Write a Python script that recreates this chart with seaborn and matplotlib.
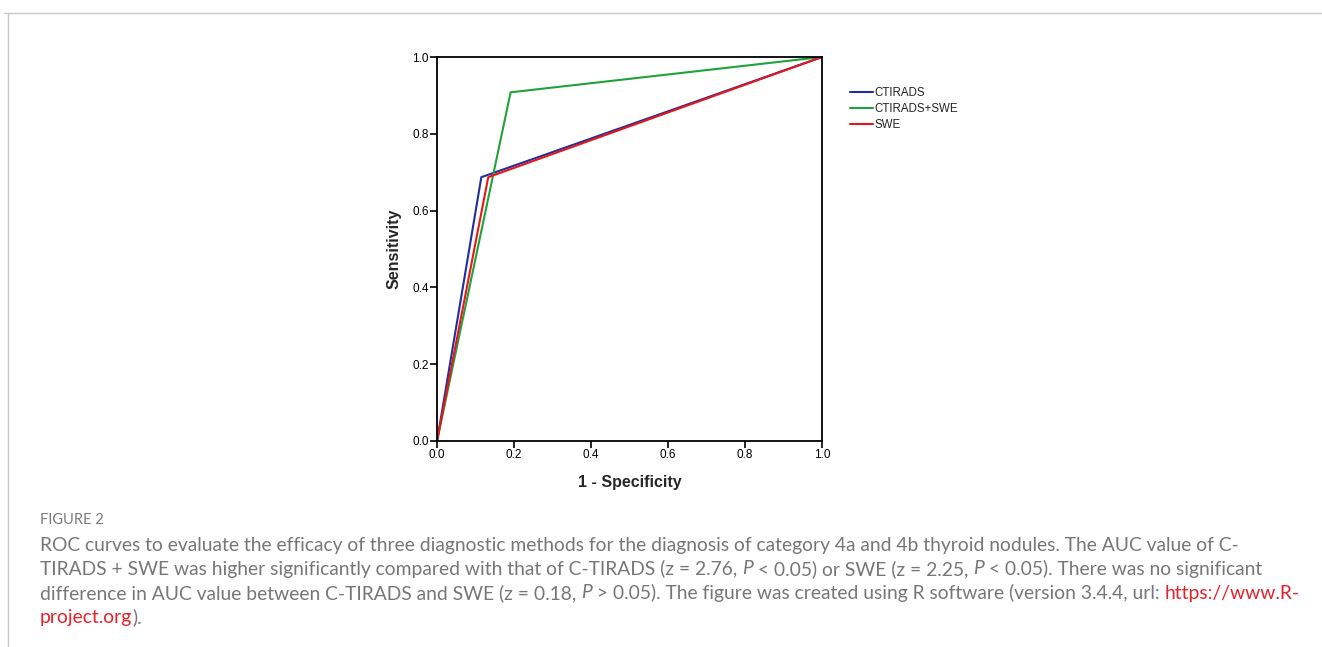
import numpy as np
import pandas as pd
import seaborn as sns
import matplotlib.pyplot as plt
from matplotlib.lines import Line2D

# ROC points
methods = ["CTIRADS", "CTIRADS+SWE", "SWE"]
fpr_ctirads = [0.0, 0.115, 1.0]
tpr_ctirads = [0.0, 0.687, 1.0]
fpr_combo = [0.0, 0.191, 1.0]
tpr_combo = [0.0, 0.908, 1.0]
fpr_swe = [0.0, 0.133, 1.0]
tpr_swe = [0.0, 0.687, 1.0]
ticks = [0.0, 0.2, 0.4, 0.6, 0.8, 1.0]
colors = {"CTIRADS": "#1f2f9a", "CTIRADS+SWE": "#1fa23a", "SWE": "#e8161b"}

caption_lines = [
    [("ROC curves to evaluate the efficacy of three diagnostic methods for the diagnosis of category 4a and 4b thyroid nodules. The AUC value of C-", "n")],
    [("TIRADS + SWE was higher significantly compared with that of C-TIRADS (z = 2.76, ", "n"), ("P", "i"),
     (" < 0.05) or SWE (z = 2.25, ", "n"), ("P", "i"), (" < 0.05). There was no significant", "n")],
    [("difference in AUC value between C-TIRADS and SWE (z = 0.18, ", "n"), ("P", "i"),
     (" > 0.05). The figure was created using R software (version 3.4.4, url: ", "n"), ("https://www.R-", "r")],
    [("project.org", "r"), (").", "n")],
]

frames = []
for name, fx, ty in [("CTIRADS", fpr_ctirads, tpr_ctirads),
                     ("CTIRADS+SWE", fpr_combo, tpr_combo),
                     ("SWE", fpr_swe, tpr_swe)]:
    frames.append(pd.DataFrame({"fpr": fx, "tpr": ty, "method": name,
                                "step": range(len(fx))}))
df = pd.concat(frames, ignore_index=True)

sns.set_style("white")
plt.rcParams["font.family"] = ["Liberation Sans", "DejaVu Sans"]

fig = plt.figure(figsize=(13.22, 6.47), dpi=100)
ax = fig.add_axes([0.3306, 0.3184, 0.2912, 0.5935])

sns.lineplot(data=df, x="fpr", y="tpr", hue="method", hue_order=methods,
             palette=colors, sort=False, estimator=None, units="method",
             linewidth=1.5, ax=ax, legend=False)

ax.set_xlim(0, 1)
ax.set_ylim(0, 1)
ax.set_xticks(ticks)
ax.set_yticks(ticks)
ax.set_xticklabels([f"{t:.1f}" for t in ticks], fontsize=8.5)
ax.set_yticklabels([f"{t:.1f}" for t in ticks], fontsize=8.5)
ax.tick_params(axis="both", direction="out", length=5, width=1.2, pad=1,
               bottom=True, left=True, colors="black")
for s in ax.spines.values():
    s.set_visible(True)
    s.set_color("black")
    s.set_linewidth(1.3)
ax.set_xlabel("1 - Specificity", fontsize=11.5, fontweight="bold", labelpad=10)
ax.set_ylabel("Sensitivity", fontsize=11.5, fontweight="bold", labelpad=8)

handles = [Line2D([0], [0], color=colors[m], lw=1.5) for m in methods]
leg = fig.legend(handles, methods, loc="upper left",
                 bbox_to_anchor=(850 / 1322, 1 - 87 / 647), frameon=False,
                 fontsize=8.3, handlelength=2.0, handletextpad=0.15,
                 labelspacing=0.33, borderaxespad=0, borderpad=0)

# frame lines of the page
fig.add_artist(Line2D([4 / 1322, 1.0], [1 - 13 / 647, 1 - 13 / 647],
                      color="#c8c8c8", lw=1.0))
fig.add_artist(Line2D([8 / 1322, 8 / 1322], [0, 1 - 13 / 647],
                      color="#c8c8c8", lw=1.0))

cap_font = ["Lato", "DejaVu Sans"]
fig.text(40 / 1322, 1 - 520 / 647, "FIGURE 2", fontsize=10.5, color="#7a7a7a",
         family=cap_font, va="center", ha="left")

fig.canvas.draw()
renderer = fig.canvas.get_renderer()

# fit caption size so the first line spans as in the page
probe = fig.text(0, 0, caption_lines[0][0][0], fontsize=10, family=cap_font)
w10 = probe.get_window_extent(renderer=renderer).width
probe.remove()
cap_size = 10 * 1205 / w10

y0 = 545
for i, line in enumerate(caption_lines):
    x = 40.0
    y = 1 - (y0 + i * 24) / 647
    for seg, kind in line:
        col = "#e4222b" if kind == "r" else "#777777"
        style = "italic" if kind == "i" else "normal"
        t = fig.text(x / 1322, y, seg, fontsize=cap_size, color=col, family=cap_font,
                     style=style, va="center", ha="left")
        bb = t.get_window_extent(renderer=renderer)
        x += bb.width

fig.savefig("out.png", dpi=100)
